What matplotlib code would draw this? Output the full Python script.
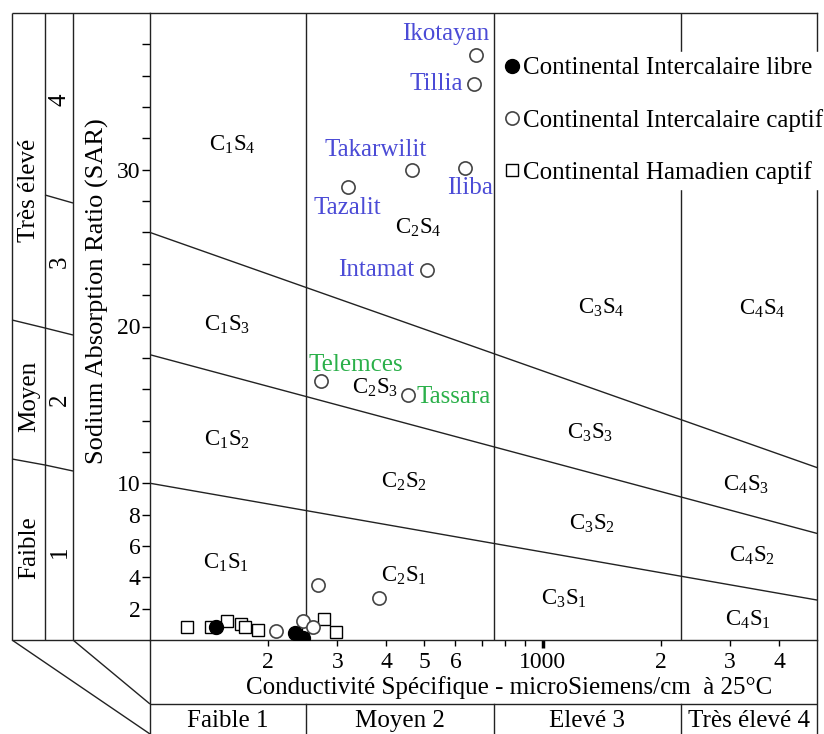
import numpy as np
import matplotlib
matplotlib.use("Agg")
import matplotlib.pyplot as plt
import matplotlib.transforms as mtrans
from matplotlib.ticker import FixedLocator, FixedFormatter, NullLocator

plt.rcParams['font.family'] = ['Liberation Serif', 'DejaVu Serif']
plt.rcParams['mathtext.default'] = 'regular'

# data (conductivity uS/cm, SAR)
libre_ec = [147, 234, 245]
libre_sar = [0.83, 0.45, 0.13]

captif_ec = [677, 669, 465, 634, 319, 508, 273, 454, 268, 383, 209, 245, 260]
captif_sar = [37.3, 35.5, 30.0, 30.1, 28.9, 23.6, 16.5, 15.6, 3.5, 2.7, 0.57, 1.21, 0.83]

hamad_ec = [124, 143, 157, 171, 175, 188, 253, 277, 298]
hamad_sar = [0.83, 0.83, 1.21, 1.05, 0.8, 0.64, 0.83, 1.34, 0.51]

# named wells (first 8 points of captif)
names = ['Ikotayan', 'Tillia', 'Takarwilit', 'Iliba', 'Tazalit', 'Intamat', 'Telemces', 'Tassara']
name_offsets = [(-22, 15), (-8, 0), (-26, 14), (4, -14), (0, -15), (-9, 0), (25, 12), (6, -1)]
name_ha = ['center', 'right', 'center', 'center', 'center', 'right', 'center', 'left']
name_col = ['#4b4bd6'] * 6 + ['#2bb04a'] * 2

# boundary lines between SAR classes (at EC=100 and EC=5000)
bound_ec = [100, 5000]
bound_s12 = [10, 2.55]
bound_s23 = [18.2, 6.8]
bound_s34 = [26.0, 11.0]
ec_limits = [250, 750, 2250]

zones = ['C$_1$S$_4$', 'C$_1$S$_3$', 'C$_1$S$_2$', 'C$_1$S$_1$',
         'C$_2$S$_4$', 'C$_2$S$_3$', 'C$_2$S$_2$', 'C$_2$S$_1$',
         'C$_3$S$_4$', 'C$_3$S$_3$', 'C$_3$S$_2$', 'C$_3$S$_1$',
         'C$_4$S$_4$', 'C$_4$S$_3$', 'C$_4$S$_2$', 'C$_4$S$_1$']
zone_ec = [162, 157, 157, 156, 482, 374, 443, 443, 1409, 1321, 1334, 1133, 3622, 3297, 3414, 3337]
zone_sar = [31.6, 20.1, 12.8, 4.9, 26.3, 16.1, 10.1, 4.1, 21.2, 13.2, 7.4, 2.6, 21.1, 9.9, 5.4, 1.3]

fs = 18
W, H = 824, 734
fig = plt.figure(figsize=(W / 100, H / 100), dpi=100)

# decoration layer in pixel coordinates
deco = fig.add_axes([0, 0, 1, 1])
deco.set_xlim(0, W)
deco.set_ylim(H, 0)
deco.axis('off')

ax = fig.add_axes([150 / W, 1 - 640 / H, 667 / W, 627 / H])
ax.set_xscale('log')
ax.set_xlim(100, 5000)
ax.set_ylim(0, 40)

lk = dict(color='#222222', lw=1.0)
ax.plot(bound_ec, bound_s12, **lk)
ax.plot(bound_ec, bound_s23, **lk)
ax.plot(bound_ec, bound_s34, **lk)
for e in ec_limits:
    ax.axvline(e, **lk)

for z, x, y in zip(zones, zone_ec, zone_sar):
    ax.text(x, y, z, fontsize=16.5, ha='center', va='center')

ax.plot(hamad_ec, hamad_sar, 's', ms=9, mfc='white', mec='black', mew=1.0, ls='none',
        label='Continental Hamadien captif', zorder=3)
ax.plot(captif_ec, captif_sar, 'o', ms=9.5, mfc='white', mec='#444444', mew=1.2, ls='none',
        label='Continental Intercalaire captif', zorder=4)
ax.plot(libre_ec, libre_sar, 'o', ms=10, color='black', ls='none',
        label='Continental Intercalaire libre', zorder=5)

for i, n in enumerate(names):
    ax.annotate(n, (captif_ec[i], captif_sar[i]), xytext=name_offsets[i],
                textcoords='offset points', ha=name_ha[i], va='center',
                color=name_col[i], fontsize=18)

h, l = ax.get_legend_handles_labels()
leg = ax.legend(h[::-1], l[::-1], loc='upper left', bbox_to_anchor=(350 / 667, (640 - 52) / 627),
                fontsize=fs, frameon=True, facecolor='white', edgecolor='white', framealpha=1,
                fancybox=False, borderaxespad=0, borderpad=0.2, handlelength=0.6,
                handletextpad=0.12, labelspacing=1.17)
leg.set_zorder(6)

# ticks
yt = np.arange(2, 40, 2)
ax.yaxis.set_major_locator(FixedLocator(yt))
ylab = ['' for _ in yt]
for v in [2, 4, 6, 8, 10, 20, 30]:
    ylab[v // 2 - 1] = str(v)
ax.yaxis.set_major_formatter(FixedFormatter(ylab))
ax.yaxis.set_minor_locator(NullLocator())
ax.tick_params(axis='y', direction='out', length=6, width=1, pad=1, labelsize=17)

ax.xaxis.set_major_locator(FixedLocator([1000]))
ax.xaxis.set_major_formatter(FixedFormatter(['1000']))
xminor = [200, 300, 400, 500, 600, 700, 800, 900, 2000, 3000, 4000]
xminor_lab = ['2', '3', '4', '5', '6', '', '', '', '2', '3', '4']
ax.xaxis.set_minor_locator(FixedLocator(xminor))
ax.xaxis.set_minor_formatter(FixedFormatter(xminor_lab))
ax.tick_params(axis='x', which='major', direction='out', length=6, width=2.5, pad=3, labelsize=17)
ax.tick_params(axis='x', which='minor', direction='out', length=4, width=1, pad=5, labelsize=17)
for s in ax.spines.values():
    s.set_linewidth(1.0)
    s.set_color('#222222')

fig.text(509 / W, 1 - 688 / H, 'Conductivité Spécifique - microSiemens/cm  à 25°C',
         fontsize=fs, ha='center', va='center')
fig.text(97 / W, 1 - 291 / H, 'Sodium Absorption Ratio (SAR)', fontsize=fs + 1,
         rotation=90, ha='center', va='center')

# left salinity-hazard columns
segs = [
    ([12, 12], [13, 640]), ([45, 45], [13, 640]), ([73, 73], [13, 640]),
    ([12, 150], [13, 13]), ([12, 150], [640, 640]),
    ([45, 73], [195, 203]),
    ([12, 45, 73], [320, 328, 335]),
    ([12, 45, 73], [459, 465, 471]),
    ([12, 150], [640, 734]), ([73, 150], [640, 704]),
    ([150, 150], [640, 734]), ([817, 817], [640, 734]),
    ([150, 817], [704, 704]),
]
for xs, ys in segs:
    deco.plot(xs, ys, color='#222222', lw=1.0, solid_capstyle='butt')

left_lab = [('Très élevé', 190), ('Moyen', 396), ('Faible', 548)]
for t, y in left_lab:
    deco.text(29, y, t, rotation=90, fontsize=fs, ha='center', va='center')
for t, y in [('4', 100), ('3', 262), ('2', 400), ('1', 552)]:
    deco.text(60, y, t, rotation=90, fontsize=fs, ha='center', va='center')

# bottom conductivity classes
bt = mtrans.blended_transform_factory(ax.transData, ax.transAxes)
ybot0, ybot1 = (640 - 704) / 627, (640 - 734) / 627
for e in ec_limits:
    ax.plot([e, e], [ybot0, ybot1], transform=bt, clip_on=False, **lk)
class_lab = ['Faible 1', 'Moyen 2', 'Elevé 3', 'Très élevé 4']
class_edges = [100, 250, 750, 2250, 5000]
for i, t in enumerate(class_lab):
    xc = np.sqrt(class_edges[i] * class_edges[i + 1])
    ax.text(xc, (ybot0 + ybot1) / 2 - 0.003, t, transform=bt, fontsize=fs,
            ha='center', va='center')

fig.savefig('out.png', dpi=100)
